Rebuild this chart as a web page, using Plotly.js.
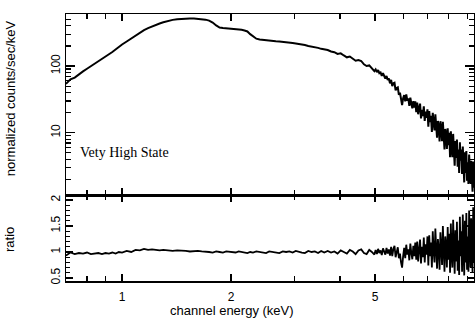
<!DOCTYPE html>
<html>
<head>
<meta charset="utf-8">
<script src="https://cdn.plot.ly/plotly-3.0.1.min.js"></script>
<style>html,body{margin:0;padding:0;background:#fff;}#chart{width:475px;height:324px;}</style>
</head>
<body>
<div id="chart"></div>
<script>
// channel energy (keV)
const energy = [
  0.70,0.72,0.74,0.76,0.78,0.80,0.82,0.84,0.86,0.88,0.90,0.92,0.94,0.96,0.98,
  1.00,1.03,1.06,1.09,1.12,1.15,1.18,1.21,1.24,1.27,1.30,
  1.34,1.38,1.42,1.46,1.50,1.54,1.58,1.62,1.66,1.70,1.74,1.78,1.82,1.86,1.90,1.94,1.98,2.02,2.06,2.10,2.14,2.18,2.22,2.26,2.30,
  2.35,2.40,2.45,2.50,2.55,2.60,
  2.66,2.72,2.78,2.84,2.90,2.96,3.02,3.08,3.14,3.20,
  3.27,3.34,3.41,3.48,3.55,3.62,
  3.70,3.78,3.86,3.94,
  4.02,4.10,4.18,4.26,4.34,4.42,4.50,4.58,4.66,4.74,4.82,4.90,4.98,
  5.02,5.06,5.10,5.14,5.18,5.22,5.26,5.30,5.34,5.38,5.42,5.46,5.50,
  5.54,5.58,5.62,5.66,5.70,5.74,5.78,5.82,5.86,5.90,5.94,5.98,
  6.02,6.06,6.10,6.14,6.18,6.22,6.26,6.30,6.34,6.38,6.42,6.46,6.50,
  6.54,6.58,6.62,6.66,6.70,6.74,6.78,6.82,6.86,6.90,6.94,6.98,
  7.02,7.06,7.10,7.14,7.18,7.22,7.26,7.30,7.34,7.38,7.42,7.46,7.50,
  7.54,7.58,7.62,7.66,7.70,7.74,7.78,7.82,7.86,7.90,7.94,7.98,
  8.02,8.06,8.10,8.14,8.18,8.22,8.26,8.30,8.34,8.38,8.42,8.46,8.50,
  8.54,8.58,8.62,8.66,8.70,8.74,8.78,8.82,8.86,8.90,8.94,8.98,
  9.02,9.06,9.10,9.14,9.18,9.22,9.26,9.30,9.34,9.38
];
// normalized counts/sec/keV
const counts = [
  54,63,67,76,83,91,99,107,116,127,138,150,162,177,196,
  210,233,259,287,321,346,371,394,415,434,452,
  474,492,504,511,517,515,514,509,504,496,479,448,406,377,371,367,366,361,360,354,349,340,330,301,278,
  257,250,246,245,241,239,
  236,234,232,229,224,221,218,216,211,207,
  200,197,191,187,181,178,
  174,165,161,152,
  155,144,135,139,130,120,123,119,106,100,102,93,84,
  89,81,87,78,80,71,78,72,65,71,62,65,55,
  62,50,55,56,43,47,48,37,40,31,26,33,
  36.7,29.5,37.6,30.4,32.6,25.2,33.6,27.4,23.2,29.7,23.9,29.5,20.4,
  28.2,18.9,23.6,27.3,16.4,22,17.7,24.8,15,20.8,16.7,22.4,
  12.3,21.1,14.4,17.9,10.3,19.9,14.2,10.8,18.9,11.1,8.4,15,12.2,
  7.4,14.9,11.2,7.5,14.6,8.5,5.6,11.4,9.5,5.7,11.7,6.5,
  10,4.3,10.5,6.2,4.3,9.6,6.3,3.2,7.5,4.2,7.9,3.1,5.6,
  2.5,7.2,3.8,5.6,2.4,6.2,3.6,1.8,5.1,2.5,5.3,1.9,
  3.6,1.7,4.7,2.4,1.7,3.8,2.5,1.3,3.7,1.5
];
// data / model ratio
const ratio = [
  0.93,0.99,0.96,0.98,0.97,0.99,0.96,0.97,0.98,0.96,0.98,0.97,0.99,0.97,1.00,
  0.99,1.02,1.00,1.04,1.03,1.06,1.04,1.05,1.04,1.03,1.04,
  1.03,1.02,1.03,1.03,1.02,1.01,1.02,1.02,1.01,1.01,1.00,0.99,1.01,1.00,0.99,1.01,1.00,1.00,0.99,1.01,1.00,0.99,0.98,1.00,0.99,
  1.01,1.00,0.99,0.98,1.01,1.00,
  0.99,0.98,1.01,1.00,1.01,0.99,1.02,1.00,0.99,0.98,
  1.02,1.00,1.01,0.98,1.02,0.99,
  1.02,0.99,1.01,0.97,
  1.03,1.00,0.97,1.04,1.01,0.96,1.03,1.05,0.98,0.96,1.04,1.00,0.95,
  1.04,0.96,1.06,0.98,1.03,0.94,1.07,1.01,0.95,1.08,0.97,1.05,0.93,
  1.10,0.92,1.06,1.12,0.90,1.03,1.09,0.88,0.97,0.80,0.70,0.92,
  1.08,0.88,1.14,0.95,1.05,0.84,1.16,0.98,0.86,1.12,0.92,1.18,0.85,
  1.20,0.82,1.05,1.24,0.78,1.10,0.90,1.28,0.80,1.15,0.95,1.30,
  0.74,1.32,0.92,1.18,0.70,1.40,1.02,0.80,1.45,0.88,0.68,1.25,1.05,
  0.66,1.38,1.08,0.75,1.50,0.90,0.62,1.30,1.12,0.70,1.48,0.85,
  1.35,0.60,1.55,0.95,0.70,1.62,1.10,0.58,1.42,0.82,1.58,0.64,1.22,
  0.56,1.68,0.92,1.40,0.62,1.72,1.05,0.55,1.60,0.80,1.75,0.66,
  1.30,0.62,1.80,0.95,0.70,1.65,1.15,0.60,1.86,0.80
];

const xTickVals = [1, 2, 5];
const xTickText = ['1', '2', '5'];
const xMinorVals = [0.8, 0.9, 3, 4, 6, 7, 8, 9];
const yTopTickVals = [10, 100];
const yTopTickText = ['10', '100'];
const yTopMinorVals = [2,3,4,5,6,7,8,9,20,30,40,50,60,70,80,90,200,300,400,500,600];
const yRatioTickVals = [0.5, 1, 1.5, 2];
const yRatioTickText = ['0.5', '1', '1.5', '2'];
const yRatioMinorVals = [0.5,0.6,0.7,0.8,0.9,1.0,1.1,1.2,1.3,1.4,1.5,1.6,1.7,1.8,1.9,2.0];

const stateLabel = 'Vety High State';
const yTitleTop = 'normalized counts/sec/keV';
const yTitleBottom = 'ratio';
const xTitle = 'channel energy (keV)';

const fontFam = 'Liberation Sans, Arial, sans-serif';
const common = {
  showline: true, linecolor: 'black', linewidth: 1.5,
  mirror: 'allticks', ticks: 'inside', tickcolor: 'black', tickwidth: 1.2,
  showgrid: false, zeroline: false, tickmode: 'array',
  tickfont: {family: fontFam, size: 12, color: 'black'}
};
const xRange = [Math.log10(0.7), 0.9725];

const traces = [
  {x: energy, y: counts, xaxis: 'x', yaxis: 'y', mode: 'lines',
   line: {color: 'black', width: 2}, hoverinfo: 'skip'},
  {x: energy, y: ratio, xaxis: 'x2', yaxis: 'y2', mode: 'lines',
   line: {color: 'black', width: 1.8}, hoverinfo: 'skip'}
];

const minorX = {tickmode: 'array', tickvals: xMinorVals, ticks: 'inside', ticklen: 5, tickwidth: 1.2, tickcolor: 'black', showgrid: false};

const layout = {
  width: 475, height: 324,
  margin: {l: 66, r: 1, t: 14, b: 43, pad: 0},
  paper_bgcolor: 'white', plot_bgcolor: 'white',
  showlegend: false,
  font: {family: fontFam, size: 12, color: 'black'},
  xaxis: Object.assign({}, common, {
    type: 'log', range: xRange, anchor: 'y', domain: [0, 1],
    tickvals: xTickVals, ticktext: xTickText, ticklen: 7, showticklabels: false,
    minor: minorX
  }),
  xaxis2: Object.assign({}, common, {
    type: 'log', range: xRange, anchor: 'y2', domain: [0, 1], matches: 'x',
    tickvals: xTickVals, ticktext: xTickText, ticklen: 7, showticklabels: true,
    ticklabelstandoff: 4,
    minor: minorX
  }),
  yaxis: Object.assign({}, common, {
    type: 'log', range: [0.066, 2.78], anchor: 'x', domain: [0.322, 1],
    tickvals: yTopTickVals, ticktext: yTopTickText, ticklen: 9, tickangle: -90,
    minor: {tickmode: 'array', tickvals: yTopMinorVals, ticks: 'inside', ticklen: 5, tickwidth: 1.2, tickcolor: 'black', showgrid: false}
  }),
  yaxis2: Object.assign({}, common, {
    range: [0.442, 2.096], anchor: 'x2', domain: [0, 0.322],
    tickvals: yRatioTickVals, ticktext: yRatioTickText, ticklen: 7, tickangle: -90,
    minor: {tickmode: 'array', tickvals: yRatioMinorVals, ticks: 'inside', ticklen: 4, tickwidth: 1.2, tickcolor: 'black', showgrid: false}
  }),
  annotations: [
    {text: stateLabel, xref: 'paper', yref: 'paper', x: 0.029, y: 0.483,
     xanchor: 'left', yanchor: 'middle', showarrow: false,
     font: {family: 'Liberation Serif, Times New Roman, serif', size: 14, color: 'black'}},
    {text: yTitleTop, xref: 'paper', yref: 'paper', x: -0.137, y: 0.685,
     xanchor: 'center', yanchor: 'middle', textangle: -90, showarrow: false,
     font: {family: fontFam, size: 13, color: 'black'}},
    {text: yTitleBottom, xref: 'paper', yref: 'paper', x: -0.137, y: 0.154,
     xanchor: 'center', yanchor: 'middle', textangle: -90, showarrow: false,
     font: {family: fontFam, size: 13, color: 'black'}},
    {text: xTitle, xref: 'paper', yref: 'paper', x: 0.407, y: -0.112,
     xanchor: 'center', yanchor: 'middle', showarrow: false,
     font: {family: fontFam, size: 13, color: 'black'}}
  ]
};

Plotly.newPlot('chart', traces, layout, {staticPlot: true, displayModeBar: false});
</script>
</body>
</html>
